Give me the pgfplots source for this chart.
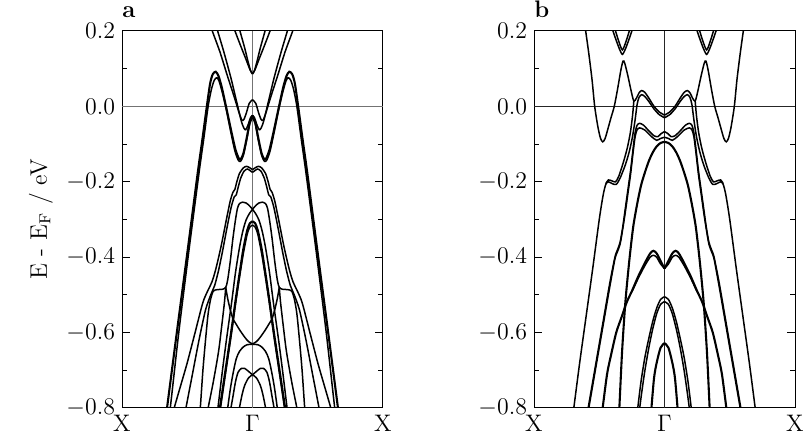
\documentclass[border=0pt]{standalone}
\usepackage{pgfplots}
\usepackage{pgfplotstable}
\pgfplotsset{compat=1.18}

% ---------- panel a : bands for k >= 0 (mirrored to k < 0) ----------
\pgfplotstableread[row sep=\\]{k E\\ 0 0.086\\ 0.015 0.095\\ 0.035 0.12\\ 0.06 0.155\\ 0.096 0.2\\ 0.11 0.22\\}\aVa
\pgfplotstableread[row sep=\\]{k E\\ 0 0.086\\ 0.02 0.098\\ 0.05 0.125\\ 0.09 0.16\\ 0.134 0.2\\ 0.15 0.22\\}\aVb
\pgfplotstableread[row sep=\\]{k E\\ 0 0.018\\ 0.025 0.008\\ 0.045 -0.015\\ 0.065 -0.034\\ 0.08 -0.037\\ 0.1 -0.02\\ 0.14 0.025\\ 0.195 0.084\\ 0.25 0.145\\ 0.308 0.2\\ 0.33 0.225\\}\aWa
\pgfplotstableread[row sep=\\]{k E\\ 0 -0.024\\ 0.015 -0.03\\ 0.035 -0.05\\ 0.052 -0.062\\ 0.065 -0.058\\ 0.085 -0.04\\ 0.12 0.01\\ 0.165 0.075\\ 0.22 0.145\\ 0.267 0.2\\ 0.29 0.23\\}\aWb
\pgfplotstableread[row sep=\\]{k E\\ 0 -0.024\\ 0.02 -0.04\\ 0.045 -0.085\\ 0.07 -0.125\\ 0.09 -0.14\\ 0.105 -0.138\\ 0.13 -0.115\\ 0.16 -0.07\\ 0.2 -0.005\\ 0.235 0.05\\ 0.26 0.08\\ 0.282 0.092\\ 0.305 0.085\\ 0.325 0.06\\ 0.35 0.0\\ 0.385 -0.09\\ 0.42 -0.177\\ 0.5 -0.39\\ 0.58 -0.6\\ 0.655 -0.8\\ 0.67 -0.84\\}\aMa
\pgfplotstableread[row sep=\\]{k E\\ 0 -0.03\\ 0.02 -0.045\\ 0.045 -0.09\\ 0.07 -0.13\\ 0.092 -0.146\\ 0.11 -0.142\\ 0.135 -0.118\\ 0.165 -0.07\\ 0.2 -0.01\\ 0.23 0.035\\ 0.255 0.066\\ 0.272 0.076\\ 0.292 0.07\\ 0.315 0.045\\ 0.34 0.0\\ 0.375 -0.09\\ 0.41 -0.177\\ 0.49 -0.39\\ 0.565 -0.6\\ 0.63 -0.8\\ 0.645 -0.84\\}\aMb
\pgfplotstableread[row sep=\\]{k E\\ 0 -0.168\\ 0.02 -0.163\\ 0.045 -0.159\\ 0.07 -0.163\\ 0.1 -0.178\\ 0.12 -0.2\\ 0.135 -0.22\\ 0.15 -0.228\\ 0.17 -0.25\\ 0.2 -0.3\\ 0.24 -0.37\\ 0.28 -0.43\\ 0.31 -0.465\\ 0.34 -0.487\\ 0.38 -0.52\\ 0.44 -0.6\\ 0.5 -0.68\\ 0.55 -0.74\\ 0.6 -0.8\\ 0.62 -0.83\\}\aCa
\pgfplotstableread[row sep=\\]{k E\\ 0 -0.175\\ 0.02 -0.17\\ 0.04 -0.166\\ 0.065 -0.172\\ 0.09 -0.19\\ 0.11 -0.215\\ 0.125 -0.235\\ 0.14 -0.24\\ 0.165 -0.27\\ 0.2 -0.33\\ 0.23 -0.385\\ 0.26 -0.435\\ 0.29 -0.475\\ 0.32 -0.5\\ 0.36 -0.54\\ 0.41 -0.62\\ 0.46 -0.71\\ 0.51 -0.8\\ 0.53 -0.84\\}\aCb
% this band runs across Gamma: shoulder on one side, crossing at Gamma, arm on the other side
\pgfplotstableread[row sep=\\]{k E\\ -0.41 -0.84\\ -0.4 -0.8\\ -0.38 -0.7\\ -0.36 -0.62\\ -0.34 -0.55\\ -0.32 -0.51\\ -0.3 -0.49\\ -0.27 -0.486\\ -0.23 -0.485\\ -0.205 -0.48\\ -0.19 -0.46\\ -0.17 -0.41\\ -0.15 -0.35\\ -0.13 -0.3\\ -0.115 -0.27\\ -0.1 -0.258\\ -0.075 -0.254\\ -0.05 -0.256\\ -0.025 -0.263\\ 0 -0.273\\ 0.025 -0.285\\ 0.05 -0.302\\ 0.075 -0.332\\ 0.1 -0.375\\ 0.13 -0.44\\ 0.16 -0.52\\ 0.2 -0.62\\ 0.23 -0.7\\ 0.265 -0.8\\ 0.28 -0.84\\}\aXa
\pgfplotstableread[row sep=\\]{k E\\ 0.205 -0.48\\ 0.215 -0.52\\ 0.235 -0.58\\ 0.26 -0.65\\ 0.3 -0.73\\ 0.34 -0.8\\ 0.36 -0.84\\}\aSa
\pgfplotstableread[row sep=\\]{k E\\ 0.205 -0.48\\ 0.19 -0.51\\ 0.17 -0.54\\ 0.15 -0.563\\ 0.13 -0.575\\ 0.1 -0.592\\ 0.06 -0.612\\ 0.03 -0.624\\ 0 -0.63\\}\aSb
\pgfplotstableread[row sep=\\]{k E\\ 0 -0.305\\ 0.02 -0.31\\ 0.04 -0.328\\ 0.07 -0.378\\ 0.1 -0.445\\ 0.13 -0.515\\ 0.16 -0.59\\ 0.19 -0.66\\ 0.22 -0.73\\ 0.25 -0.8\\ 0.265 -0.84\\}\aLa
\pgfplotstableread[row sep=\\]{k E\\ 0 -0.315\\ 0.02 -0.32\\ 0.04 -0.338\\ 0.07 -0.39\\ 0.1 -0.455\\ 0.13 -0.525\\ 0.16 -0.6\\ 0.19 -0.67\\ 0.22 -0.74\\ 0.245 -0.8\\ 0.26 -0.84\\}\aLb
\pgfplotstableread[row sep=\\]{k E\\ 0 -0.631\\ 0.04 -0.632\\ 0.07 -0.638\\ 0.1 -0.65\\ 0.125 -0.67\\ 0.15 -0.71\\ 0.17 -0.75\\ 0.19 -0.8\\ 0.2 -0.83\\}\aFa
\pgfplotstableread[row sep=\\]{k E\\ 0 -0.712\\ 0.03 -0.703\\ 0.06 -0.695\\ 0.085 -0.695\\ 0.11 -0.705\\ 0.13 -0.73\\ 0.15 -0.77\\ 0.165 -0.8\\ 0.175 -0.83\\}\aFb
\pgfplotstableread[row sep=\\]{k E\\ 0 -0.712\\ 0.03 -0.72\\ 0.06 -0.74\\ 0.08 -0.765\\ 0.1 -0.8\\ 0.11 -0.83\\}\aFc

% ---------- panel b ----------
\pgfplotstableread[row sep=\\]{k E\\ 0.62 0.24\\ 0.604 0.2\\ 0.58 0.14\\ 0.555 0.07\\ 0.535 0.0\\ 0.51 -0.055\\ 0.49 -0.085\\ 0.473 -0.094\\ 0.455 -0.085\\ 0.43 -0.055\\ 0.41 -0.03\\ 0.385 0.0\\ 0.36 0.045\\ 0.335 0.095\\ 0.318 0.12\\ 0.305 0.115\\ 0.28 0.08\\ 0.255 0.04\\ 0.235 0.014\\ 0.215 0.022\\ 0.195 0.036\\ 0.175 0.042\\ 0.15 0.037\\ 0.12 0.022\\ 0.08 0.0\\ 0.04 -0.015\\ 0 -0.023\\}\bU
\pgfplotstableread[row sep=\\]{k E\\ 0 -0.03\\ 0.04 -0.022\\ 0.08 -0.007\\ 0.12 0.013\\ 0.15 0.026\\ 0.175 0.031\\ 0.195 0.024\\ 0.21 0.005\\ 0.225 -0.035\\ 0.245 -0.08\\ 0.27 -0.12\\ 0.3 -0.155\\ 0.34 -0.19\\ 0.37 -0.207\\ 0.4 -0.205\\ 0.43 -0.2\\ 0.45 -0.207\\ 0.47 -0.235\\ 0.5 -0.3\\ 0.55 -0.43\\ 0.6 -0.555\\ 0.65 -0.68\\ 0.695 -0.8\\ 0.71 -0.84\\}\bMa
\pgfplotstableread[row sep=\\]{k E\\ 0.235 0.014\\ 0.245 -0.025\\ 0.262 -0.07\\ 0.285 -0.11\\ 0.315 -0.148\\ 0.35 -0.185\\ 0.375 -0.2\\ 0.4 -0.198\\ 0.43 -0.195\\ 0.45 -0.205\\}\bMb
\pgfplotstableread[row sep=\\]{k E\\ 0.235 0.215\\ 0.25 0.2\\ 0.275 0.175\\ 0.3 0.152\\ 0.323 0.138\\ 0.345 0.152\\ 0.37 0.175\\ 0.395 0.2\\ 0.41 0.215\\}\bVa
\pgfplotstableread[row sep=\\]{k E\\ 0.255 0.22\\ 0.27 0.2\\ 0.295 0.172\\ 0.323 0.15\\ 0.35 0.172\\ 0.375 0.2\\ 0.39 0.22\\}\bVb
\pgfplotstableread[row sep=\\]{k E\\ 0 -0.067\\ 0.025 -0.072\\ 0.05 -0.08\\ 0.08 -0.078\\ 0.12 -0.065\\ 0.16 -0.05\\ 0.19 -0.045\\ 0.21 -0.05\\ 0.225 -0.07\\ 0.24 -0.11\\ 0.26 -0.17\\ 0.28 -0.22\\ 0.3 -0.27\\ 0.32 -0.32\\ 0.34 -0.36\\ 0.36 -0.38\\ 0.38 -0.4\\ 0.42 -0.47\\ 0.47 -0.57\\ 0.53 -0.69\\ 0.585 -0.8\\ 0.6 -0.83\\}\bHa
\pgfplotstableread[row sep=\\]{k E\\ 0 -0.082\\ 0.03 -0.085\\ 0.06 -0.09\\ 0.1 -0.08\\ 0.15 -0.063\\ 0.19 -0.057\\ 0.21 -0.062\\ 0.225 -0.08\\ 0.24 -0.12\\ 0.26 -0.18\\ 0.28 -0.23\\ 0.3 -0.28\\ 0.32 -0.325\\ 0.34 -0.365\\ 0.36 -0.385\\ 0.38 -0.405\\ 0.42 -0.48\\ 0.47 -0.58\\ 0.53 -0.7\\ 0.58 -0.8\\ 0.595 -0.83\\}\bHb
\pgfplotstableread[row sep=\\]{k E\\ 0 -0.094\\ 0.03 -0.097\\ 0.06 -0.106\\ 0.09 -0.122\\ 0.12 -0.145\\ 0.15 -0.175\\ 0.18 -0.21\\ 0.21 -0.26\\ 0.24 -0.32\\ 0.27 -0.41\\ 0.3 -0.52\\ 0.325 -0.65\\ 0.346 -0.8\\ 0.352 -0.84\\}\bT
\pgfplotstableread[row sep=\\]{k E\\ 0 -0.43\\ 0.03 -0.41\\ 0.06 -0.39\\ 0.085 -0.383\\ 0.11 -0.39\\ 0.15 -0.415\\ 0.2 -0.45\\ 0.25 -0.49\\ 0.29 -0.52\\ 0.33 -0.56\\ 0.37 -0.6\\ 0.41 -0.66\\ 0.44 -0.71\\ 0.474 -0.8\\ 0.485 -0.83\\}\bQa
\pgfplotstableread[row sep=\\]{k E\\ 0 -0.43\\ 0.03 -0.418\\ 0.06 -0.4\\ 0.085 -0.395\\ 0.11 -0.4\\ 0.15 -0.422\\ 0.2 -0.455\\ 0.25 -0.492\\}\bQb
\pgfplotstableread[row sep=\\]{k E\\ 0 -0.505\\ 0.03 -0.512\\ 0.06 -0.535\\ 0.09 -0.57\\ 0.12 -0.615\\ 0.15 -0.665\\ 0.18 -0.73\\ 0.205 -0.8\\ 0.215 -0.83\\}\bPa
\pgfplotstableread[row sep=\\]{k E\\ 0 -0.518\\ 0.03 -0.525\\ 0.06 -0.55\\ 0.09 -0.59\\ 0.12 -0.64\\ 0.15 -0.7\\ 0.175 -0.76\\ 0.19 -0.8\\ 0.2 -0.83\\}\bPb
\pgfplotstableread[row sep=\\]{k E\\ 0 -0.628\\ 0.03 -0.64\\ 0.06 -0.68\\ 0.08 -0.72\\ 0.1 -0.8\\ 0.105 -0.83\\}\bC

\pgfplotsset{
  bandline/.style={black, line width=0.75bp, no marks, smooth, tension=0.45},
  boldband/.style={bandline, line width=1.05bp},
  bandaxis/.style={
    scale only axis, width=130.5bp, height=188.5bp,
    xmin=-1, xmax=1, ymin=-0.8, ymax=0.2,
    xtick={-1,0,1}, xticklabels={X,$\Gamma$,X},
    ytick={-0.8,-0.6,-0.4,-0.2,0,0.2},
    minor ytick={-0.7,-0.5,-0.3,-0.1,0.1},
    yticklabel style={/pgf/number format/.cd, fixed, fixed zerofill, precision=1},
    tick label style={font=\large},
    tick style={black, line width=0.5bp},
    major tick length=4bp, minor tick length=2.5bp,
    axis line style={line width=0.5bp},
    clip=true,
  },
}
% draw a band and its mirror image about Gamma
\newcommand{\band}[2][bandline]{%
  \addplot[#1] table[x=k, y=E]{#2};
  \addplot[#1] table[x expr=-\thisrow{k}, y=E]{#2};}

\begin{document}
\begin{tikzpicture}
\begin{axis}[bandaxis, name=pa, at={(61bp,17.5bp)}, anchor=south west,
  ylabel={E - E$_{\mathrm{F}}$ / eV}, ylabel style={font=\large}]
  \addplot[black!55, line width=0.6bp] coordinates {(-1,0) (1,0)};
  \addplot[black!55, line width=0.6bp] coordinates {(0,-0.8) (0,0.2)};
  \band{\aVa}\band{\aVb}\band{\aWa}\band{\aWb}\band[boldband]{\aMa}\band{\aMb}
  \band{\aCa}\band{\aCb}\band{\aXa}\band{\aSa}\band{\aSb}
  \band[boldband]{\aLa}\band{\aLb}\band{\aFa}\band{\aFb}\band{\aFc}
\end{axis}
\begin{axis}[bandaxis, name=pb, at={(267bp,17.5bp)}, anchor=south west]
  \addplot[black!85, line width=0.6bp] coordinates {(-1,0) (1,0)};
  \addplot[black!85, line width=0.6bp] coordinates {(0,-0.8) (0,0.2)};
  \band{\bU}\band{\bMa}\band{\bMb}\band{\bVa}\band{\bVb}
  \band{\bHa}\band{\bHb}\band[boldband]{\bT}\band[boldband]{\bQa}\band{\bQb}
  \band{\bPa}\band{\bPb}\band[boldband]{\bC}
\end{axis}
\node[anchor=base west, inner sep=0pt, font=\large\bfseries, yshift=6.5bp] at (pa.north west) {a};
\node[anchor=base west, inner sep=0pt, font=\large\bfseries, yshift=6.5bp] at (pb.north west) {b};
\pgfresetboundingbox
\path (0,0) rectangle (402.5bp,221.5bp);
\end{tikzpicture}
\end{document}
